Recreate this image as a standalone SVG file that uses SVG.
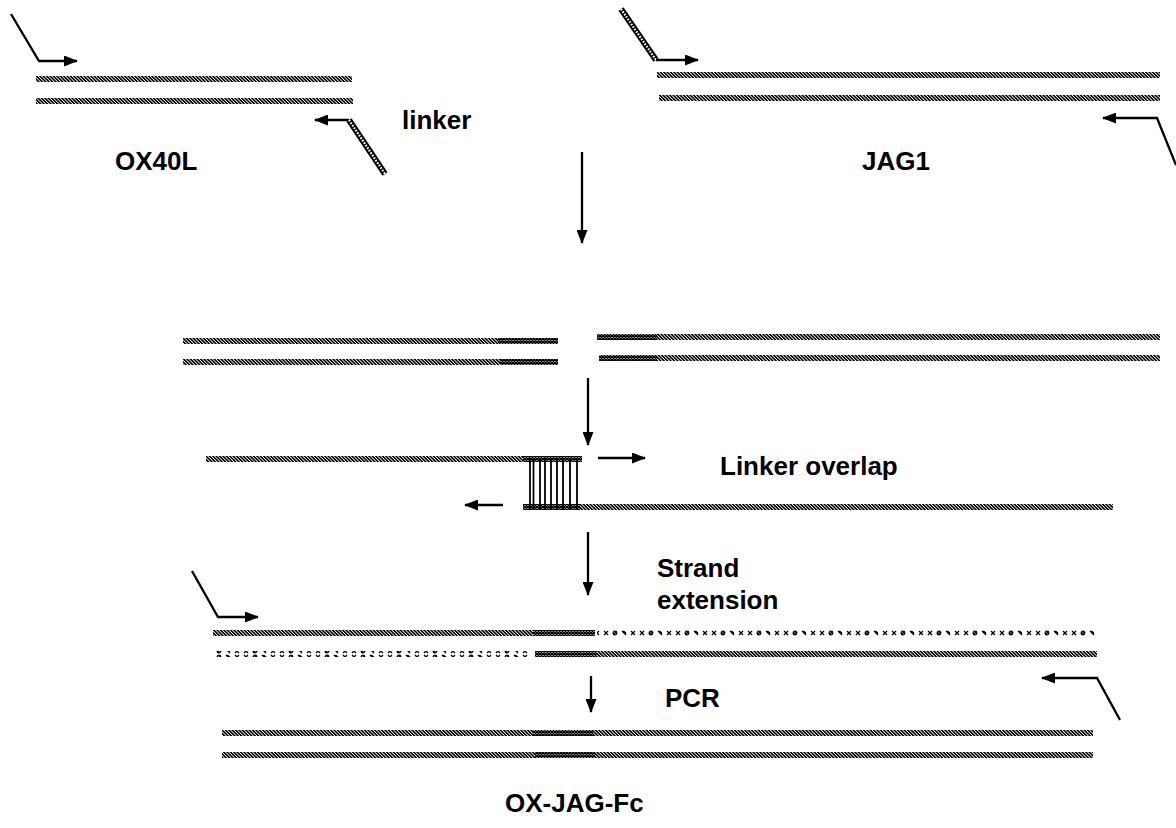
<svg xmlns="http://www.w3.org/2000/svg" width="1176" height="828" viewBox="0 0 1176 828">
<style>
.t{font-family:"Liberation Sans",Arial,sans-serif;font-weight:bold;font-size:26px;fill:#000}
.ar{fill:none;stroke:#000;stroke-width:2.3;marker-end:url(#ah)}
.hs{fill:url(#h)}
.xs{fill:url(#x)}
.ds{fill:url(#d)}
.pb{fill:none;stroke:#000;stroke-width:6}
.pw{fill:none;stroke:#fff;stroke-width:2.2;stroke-dasharray:1.6 1.4}
.vl{stroke:#000;stroke-width:1.8}
</style>
<defs>
<pattern id="h" width="2.4" height="10" patternUnits="userSpaceOnUse" patternTransform="rotate(-45)"><rect width="1.5" height="10" fill="#000" shape-rendering="crispEdges"/></pattern>
<pattern id="x" width="3" height="3" patternUnits="userSpaceOnUse"><path d="M0,0L3,3M3,0L0,3" stroke="#000" stroke-width="1.3"/></pattern>
<pattern id="d" width="36" height="6" patternUnits="userSpaceOnUse"><g stroke="#000" stroke-width="1.3" fill="none"><circle cx="3" cy="3" r="1.8"/><path d="M1.3,4.7L4.7,1.3"/><path d="M10,1L14,5M11.5,1L14,3.5"/><path d="M19,1L23,5M23,1L19,5"/><path d="M28,1L32,5M32,1L28,5"/></g></pattern>
<marker id="ah" markerWidth="14" markerHeight="11" refX="13" refY="5.5" orient="auto" markerUnits="userSpaceOnUse"><path d="M0,0L14,5.5L0,11z" fill="#000"/></marker>
</defs>
<rect width="1176" height="828" fill="#fff"/>

<g id="ox40l">
<rect class="hs" x="36" y="76" width="316" height="6"/>
<rect class="hs" x="36" y="98" width="317" height="6"/>
<polyline class="ar" points="11,14 39,61 77,61"/>
<line class="ar" x1="349" y1="120" x2="315" y2="120"/>
<line class="pb" x1="349" y1="120" x2="385" y2="174"/>
<line class="pw" x1="349" y1="120" x2="385" y2="174"/>
<text class="t" x="115" y="170">OX40L</text>
<text class="t" x="402" y="129">linker</text>
</g>

<g id="jag1">
<rect class="hs" x="657" y="72" width="503" height="6"/>
<rect class="hs" x="659" y="95" width="501" height="6"/>
<line class="pb" x1="621" y1="9" x2="656" y2="60"/>
<line class="pw" x1="621" y1="9" x2="656" y2="60"/>
<line class="ar" x1="656" y1="60" x2="698" y2="60"/>
<polyline class="ar" points="1176,165 1157,118 1103,118"/>
<text class="t" x="862" y="170">JAG1</text>
</g>

<g id="fragments">
<rect class="hs" x="183" y="338" width="315" height="6"/>
<rect class="xs" x="498" y="338" width="60" height="6"/>
<rect class="hs" x="183" y="359" width="317" height="6"/>
<rect class="xs" x="500" y="359" width="58" height="6"/>
<rect class="xs" x="597" y="334" width="60" height="6"/>
<rect class="hs" x="657" y="334" width="503" height="6"/>
<rect class="xs" x="599" y="355" width="58" height="6"/>
<rect class="hs" x="657" y="355" width="503" height="6"/>
</g>

<g id="overlap">
<rect class="hs" x="206" y="456" width="317" height="6"/>
<rect class="xs" x="523" y="456" width="59" height="6"/>
<rect class="xs" x="523" y="504" width="57" height="6"/>
<rect class="hs" x="580" y="504" width="533" height="6"/>
<g class="vl">
<line x1="530" y1="458" x2="530" y2="510"/><line x1="533.5" y1="458" x2="533.5" y2="510"/>
<line x1="540" y1="458" x2="540" y2="510"/><line x1="545" y1="458" x2="545" y2="510"/>
<line x1="551" y1="458" x2="551" y2="510"/><line x1="557" y1="458" x2="557" y2="510"/>
<line x1="563" y1="458" x2="563" y2="510"/><line x1="570" y1="458" x2="570" y2="510"/>
<line x1="577" y1="458" x2="577" y2="510"/>
</g>
<text class="t" x="720" y="475">Linker overlap</text>
</g>

<g id="extension">
<rect class="hs" x="213" y="630" width="320" height="6"/>
<rect class="xs" x="533" y="630" width="62" height="6"/>
<rect class="ds" x="597" y="630" width="500" height="6"/>
<rect class="ds" x="213" y="651" width="318" height="6"/>
<rect class="xs" x="535" y="651" width="62" height="6"/>
<rect class="hs" x="597" y="651" width="500" height="6"/>
<polyline class="ar" points="192,571 218,617 258,617"/>
<polyline class="ar" points="1120,720 1097,678 1042,678"/>
<text class="t" x="657" y="577">Strand</text>
<text class="t" x="657" y="609">extension</text>
</g>

<g id="product">
<rect class="hs" x="222" y="730" width="311" height="6"/>
<rect class="xs" x="533" y="730" width="60" height="6"/>
<rect class="hs" x="593" y="730" width="500" height="6"/>
<rect class="hs" x="222" y="752" width="313" height="6"/>
<rect class="xs" x="535" y="752" width="60" height="6"/>
<rect class="hs" x="595" y="752" width="498" height="6"/>
<text class="t" x="665" y="707">PCR</text>
<text class="t" x="505" y="812">OX-JAG-Fc</text>
</g>

<g id="connectors">
<line class="ar" x1="582" y1="152" x2="582" y2="243"/>
<line class="ar" x1="588" y1="378" x2="588" y2="445"/>
<line class="ar" x1="598" y1="458" x2="645" y2="458"/>
<line class="ar" x1="503" y1="505" x2="465" y2="505"/>
<line class="ar" x1="588" y1="532" x2="588" y2="595"/>
<line class="ar" x1="591" y1="676" x2="591" y2="712"/>
</g>
</svg>
